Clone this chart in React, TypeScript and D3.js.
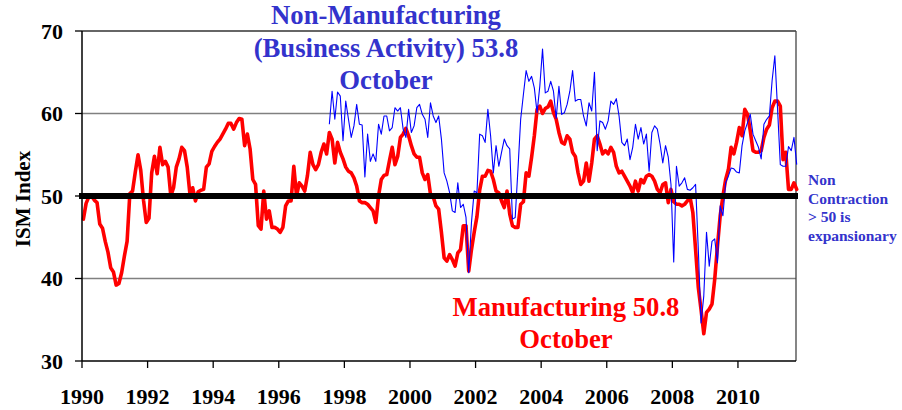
import React from 'react';
import * as d3 from 'd3';

// ISM Manufacturing index, monthly, Jan 1990 .. Oct 2011
const manufacturing: number[] = [
  47.2, 49.1, 49.9, 50.0, 49.5, 49.2, 46.6, 46.1, 44.5, 43.2, 41.3, 40.8, // 1990
  39.2, 39.4, 40.7, 42.7, 44.5, 50.3, 50.6, 52.9, 55.0, 53.1, 49.5, 46.8, // 1991
  47.3, 52.8, 54.8, 52.7, 55.9, 53.8, 54.2, 53.5, 50.0, 51.0, 53.5, 54.5, // 1992
  55.9, 55.5, 53.5, 50.2, 51.0, 49.4, 50.5, 50.7, 50.8, 53.5, 53.9, 55.4, // 1993
  56.0, 56.5, 56.9, 57.5, 58.1, 58.8, 58.8, 58.1, 58.9, 59.4, 59.3, 56.1, // 1994
  57.5, 55.7, 52.0, 51.4, 46.4, 46.0, 50.6, 47.2, 48.2, 46.2, 46.2, 46.0, // 1995
  45.6, 46.2, 48.8, 49.4, 49.4, 53.6, 50.0, 51.6, 51.2, 50.6, 52.5, 55.3, // 1996
  53.8, 53.2, 53.8, 55.3, 56.3, 55.1, 57.7, 56.9, 54.0, 56.5, 55.3, 54.5, // 1997
  53.5, 53.0, 52.8, 52.2, 51.2, 49.4, 49.2, 49.2, 49.0, 48.6, 48.2, 46.8, // 1998
  50.0, 52.0, 52.5, 52.6, 54.3, 55.9, 53.8, 54.8, 57.1, 57.5, 58.2, 57.3, // 1999
  56.1, 55.1, 54.7, 54.7, 52.8, 52.0, 52.6, 50.2, 49.9, 48.8, 48.4, 45.6, // 2000
  42.5, 42.1, 42.9, 42.3, 41.5, 43.1, 43.5, 46.4, 46.4, 40.9, 43.5, 45.6, // 2001
  47.5, 50.7, 52.4, 52.4, 53.1, 53.0, 52.0, 50.6, 50.4, 49.4, 48.6, 50.6, // 2002
  47.8, 46.4, 46.2, 46.2, 49.0, 49.3, 52.8, 52.4, 54.7, 57.3, 60.5, 60.9, // 2003
  60.0, 60.6, 60.8, 61.5, 60.1, 59.3, 57.7, 56.5, 56.3, 57.3, 56.9, 55.3, // 2004
  54.8, 52.8, 51.4, 51.8, 54.0, 51.8, 54.0, 56.9, 57.3, 56.3, 55.1, 55.5, // 2005
  55.1, 55.9, 55.3, 53.6, 52.8, 53.0, 52.4, 51.8, 51.2, 50.4, 51.8, 50.6, // 2006
  52.0, 51.6, 52.4, 52.6, 52.4, 51.8, 50.8, 50.4, 51.4, 51.6, 49.2, 50.8, // 2007
  49.3, 49.0, 49.0, 48.8, 49.0, 49.4, 49.8, 48.0, 43.5, 38.9, 36.2, 33.3, // 2008
  35.9, 36.3, 36.9, 39.9, 43.9, 47.6, 50.0, 52.0, 53.2, 55.9, 55.1, 56.5, // 2009
  58.3, 57.3, 60.5, 59.9, 57.9, 55.5, 55.3, 55.3, 55.5, 57.1, 58.1, 58.6, // 2010
  60.7, 61.5, 61.5, 60.9, 54.4, 55.3, 50.8, 50.8, 51.6, 50.8,             // 2011
];

// ISM Non-Manufacturing Business Activity, monthly, Jul 1997 .. Oct 2011
const nonManufacturing: number[] = [
  58.7, 62.7, 59.3, 62.6, 62.1, 56.7,                                     // 1997 H2
  61.5, 59.3, 57.1, 58.5, 61.1, 58.7, 58.6, 52.3, 57.5, 54.2, 55.1, 54.2, // 1998
  58.7, 57.5, 59.7, 59.7, 57.9, 58.3, 60.7, 60.3, 60.7, 58.1, 57.1, 60.5, // 1999
  57.7, 58.5, 60.7, 61.1, 59.9, 59.3, 57.1, 61.3, 59.7, 58.9, 59.7, 56.9, // 2000
  52.8, 51.8, 50.4, 48.2, 48.0, 51.6, 48.6, 49.0, 47.4, 40.7, 46.8, 50.6, // 2001
  50.4, 57.5, 57.3, 56.5, 60.5, 57.3, 52.8, 56.1, 53.6, 55.3, 56.9, 56.1, // 2002
  55.7, 47.2, 47.4, 53.2, 59.3, 62.3, 65.2, 63.9, 64.5, 63.1, 60.1, 63.3, // 2003
  67.8, 62.5, 62.7, 63.9, 62.7, 59.4, 63.3, 59.9, 60.1, 61.1, 62.7, 65.2, // 2004
  61.5, 61.7, 61.7, 59.7, 58.5, 61.3, 60.3, 65.0, 55.5, 59.1, 58.9, 58.1, // 2005
  59.1, 61.5, 61.1, 61.8, 59.7, 56.5, 56.1, 56.9, 54.4, 55.9, 58.7, 56.9, // 2006
  58.3, 56.3, 57.5, 53.0, 57.7, 58.5, 58.1, 56.3, 54.0, 56.1, 54.7, 51.4, // 2007
  42.0, 53.6, 51.2, 51.6, 52.2, 50.8, 50.7, 51.0, 51.4, 43.5, 34.6, 37.9, // 2008
  45.6, 41.5, 44.5, 44.8, 41.9, 48.8, 47.6, 51.6, 52.4, 53.4, 53.3, 52.9, // 2009
  52.8, 56.1, 57.9, 58.9, 59.9, 57.5, 56.7, 55.9, 54.5, 58.7, 59.3, 59.7, // 2010
  64.0, 67.0, 60.5, 53.8, 53.6, 53.6, 56.0, 55.5, 57.1, 53.8,             // 2011
];

const manufacturingStart = 1990; // January 1990
const nonManufacturingStart = 1997.5; // July 1997
const xTickYears = [1990, 1992, 1994, 1996, 1998, 2000, 2002, 2004, 2006, 2008, 2010];
const yTicks = [30, 40, 50, 60, 70];
const gridValues = [40, 60];
const blueTitle = ['Non-Manufacturing', '(Business Activity) 53.8', 'October'];
const redTitle = ['Manufacturing 50.8', 'October'];
const sideNote = ['Non', 'Contraction', '> 50 is', 'expansionary'];
const yAxisTitle = 'ISM Index';

const FONT = "'Liberation Serif', 'DejaVu Serif', serif";
const BLUE_TEXT = '#3333cc';

const txt = (size: number, color: string): React.CSSProperties => ({
  fontFamily: FONT,
  fontSize: size,
  fontWeight: 700,
  fill: color,
});

export default function App() {
  const W = 902;
  const H = 410;
  const left = 82;
  const right = 796;
  const top = 31;
  const bottom = 361;

  const x = d3.scaleLinear().domain([1990, 2011.77]).range([left, right]);
  const y = d3.scaleLinear().domain([30, 70]).range([bottom, top]);

  const mfgPts: [number, number][] = manufacturing.map((v, i) => [
    manufacturingStart + (i + 0.5) / 12,
    v,
  ]);
  const nonPts: [number, number][] = nonManufacturing.map((v, i) => [
    nonManufacturingStart + (i + 0.5) / 12,
    v,
  ]);

  const line = d3
    .line<[number, number]>()
    .x((d) => x(d[0]))
    .y((d) => y(d[1]));

  return (
    <div style={{ position: 'absolute', left: 0, top: 0, width: W, height: H, background: '#fff' }}>
      <svg width={W} height={H} style={{ display: 'block', fontFamily: FONT }}>
        <rect x={0} y={0} width={W} height={H} fill="#fff" />

        {/* gridlines */}
        {gridValues.map((v) => (
          <line key={v} x1={left} x2={right} y1={y(v)} y2={y(v)} stroke="#808080" strokeWidth={1.3} />
        ))}
        {/* plot border top & right */}
        <line x1={left} x2={right} y1={y(70)} y2={y(70)} stroke="#333" strokeWidth={1.3} />
        <line x1={right} x2={right} y1={y(70)} y2={y(30)} stroke="#444" strokeWidth={1.3} />

        {/* series */}
        <path
          d={line(mfgPts) || ''}
          fill="none"
          stroke="#ff0000"
          strokeWidth={3.6}
          strokeLinejoin="round"
          strokeLinecap="round"
        />
        <path
          d={line(nonPts) || ''}
          fill="none"
          stroke="#0000ff"
          strokeWidth={1.1}
          strokeLinejoin="round"
        />

        {/* 50 threshold line */}
        <line x1={left - 3} x2={right + 2} y1={y(50)} y2={y(50)} stroke="#000" strokeWidth={6} />

        {/* axes */}
        <line x1={left} x2={left} y1={y(70)} y2={y(30)} stroke="#000" strokeWidth={1.5} />
        <line x1={left} x2={right} y1={y(30)} y2={y(30)} stroke="#000" strokeWidth={1.5} />
        {yTicks.map((v) => (
          <g key={v}>
            <line x1={left - 7} x2={left} y1={y(v)} y2={y(v)} stroke="#000" strokeWidth={1.3} />
            <text x={63} y={y(v)} dy="0.35em" textAnchor="end" style={txt(22, '#000')}>
              {v}
            </text>
          </g>
        ))}
        {xTickYears.map((yr) => (
          <g key={yr}>
            <line x1={x(yr)} x2={x(yr)} y1={bottom} y2={bottom + 7} stroke="#000" strokeWidth={1.3} />
            <text x={x(yr)} y={404} textAnchor="middle" style={txt(22, '#000')}>
              {yr}
            </text>
          </g>
        ))}

        {/* y axis title */}
        <text transform="translate(30,199) rotate(-90)" textAnchor="middle" style={txt(21, '#000')}>
          {yAxisTitle}
        </text>

        {/* annotations */}
        {blueTitle.map((t, i) => (
          <text key={t} x={386} y={24 + i * 32.5} textAnchor="middle" style={txt(26.7, BLUE_TEXT)}>
            {t}
          </text>
        ))}
        {redTitle.map((t, i) => (
          <text key={t} x={566} y={316 + i * 32} textAnchor="middle" style={txt(26.7, '#ff0000')}>
            {t}
          </text>
        ))}
        {sideNote.map((t, i) => (
          <text key={t} x={808} y={185 + i * 18.7} style={txt(15.5, BLUE_TEXT)}>
            {t}
          </text>
        ))}
      </svg>
    </div>
  );
}
